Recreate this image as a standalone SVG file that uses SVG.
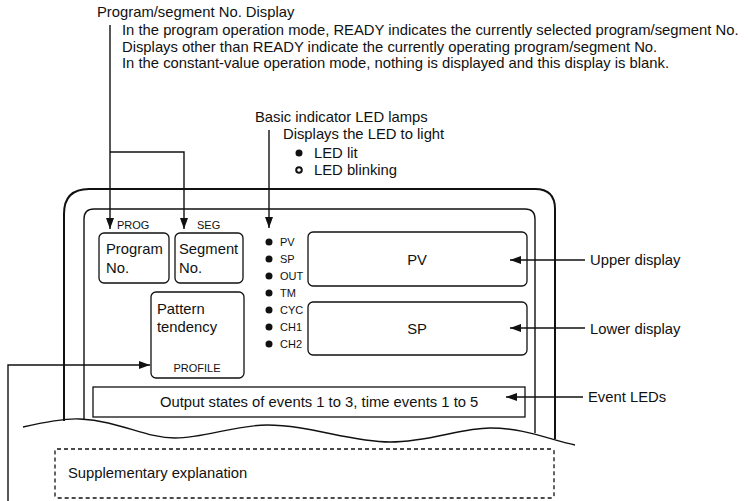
<svg xmlns="http://www.w3.org/2000/svg" width="748" height="501" viewBox="0 0 748 501">
<style>
text{font-family:"Liberation Sans",Arial,sans-serif;fill:#111}
.t{font-size:14.8px}
.s{font-size:11px}
.ln{fill:none;stroke:#111;stroke-width:1.4}
.thick{fill:none;stroke:#111;stroke-width:2}
.box{fill:#fff;stroke:#111;stroke-width:1.3}
.dash{fill:none;stroke:#111;stroke-width:1.3;stroke-dasharray:4 3}
.led{fill:#111}
</style>
<defs>
<marker id="ah" markerUnits="userSpaceOnUse" markerWidth="11" markerHeight="8" refX="11" refY="4" orient="auto">
<path d="M0,0 L11,4 L0,8 z" fill="#111"/>
</marker>
</defs>
<rect width="748" height="501" fill="#fff"/>

<g id="panel">
<path class="thick" d="M64 421 L64 214 Q64 189 89 189 L535 189 Q555 189 555 209 L555 439"/>
<path class="ln" d="M84 419 L84 219 Q84 209 94 209 L525 209 Q535 209 535 219 L535 433"/>
<path class="ln" d="M23 427 C45 422 65 418 80 419 C120 421 145 438 175 438 C205 438 235 425 267 425 C310 425 350 442 390 442 C430 442 460 428 490 428 C525 428 550 440 575 445"/>
</g>

<g id="annotation-prog-seg">
<text class="t" x="97" y="17">Program/segment No. Display</text>
<text class="t" x="122" y="35">In the program operation mode, READY indicates the currently selected program/segment No.</text>
<text class="t" x="122" y="52">Displays other than READY indicate the currently operating program/segment No.</text>
<text class="t" x="122" y="68">In the constant-value operation mode, nothing is displayed and this display is blank.</text>
</g>

<g id="annotation-led">
<text class="t" x="255" y="122">Basic indicator LED lamps</text>
<text class="t" x="283" y="139">Displays the LED to light</text>
<circle class="led" cx="299" cy="153" r="3.5"/>
<text class="t" x="314" y="158">LED lit</text>
<circle cx="299" cy="170" r="2.8" fill="#fff" stroke="#111" stroke-width="2"/>
<text class="t" x="314" y="175">LED blinking</text>
</g>

<g id="program-no">
<text class="s" x="117" y="229">PROG</text>
<rect class="box" x="99" y="233" width="70" height="50" rx="5"/>
<text class="t" x="106" y="254">Program</text>
<text class="t" x="106" y="273">No.</text>
</g>

<g id="segment-no">
<text class="s" x="197" y="229">SEG</text>
<rect class="box" x="175" y="233" width="68" height="50" rx="5"/>
<text class="t" x="179" y="254">Segment</text>
<text class="t" x="179" y="273">No.</text>
</g>

<g id="pattern">
<rect class="box" x="151" y="292" width="93" height="86" rx="5"/>
<text class="t" x="157" y="314">Pattern</text>
<text class="t" x="157" y="332">tendency</text>
<text class="s" x="197" y="372" text-anchor="middle">PROFILE</text>
</g>

<g id="leds">
<circle class="led" cx="269" cy="242" r="3.5"/><text class="s" x="280" y="246">PV</text>
<circle class="led" cx="269" cy="259" r="3.5"/><text class="s" x="280" y="263">SP</text>
<circle class="led" cx="269" cy="276" r="3.5"/><text class="s" x="280" y="280">OUT</text>
<circle class="led" cx="269" cy="293" r="3.5"/><text class="s" x="280" y="297">TM</text>
<circle class="led" cx="269" cy="310" r="3.5"/><text class="s" x="280" y="314">CYC</text>
<circle class="led" cx="269" cy="327" r="3.5"/><text class="s" x="280" y="331">CH1</text>
<circle class="led" cx="269" cy="344" r="3.5"/><text class="s" x="280" y="348">CH2</text>
</g>

<g id="upper-display">
<rect class="box" x="308" y="232" width="219" height="54" rx="5"/>
<text class="t" x="417" y="265" text-anchor="middle">PV</text>
</g>

<g id="lower-display">
<rect class="box" x="308" y="302" width="219" height="53" rx="5"/>
<text class="t" x="417" y="334" text-anchor="middle">SP</text>
</g>

<g id="event-leds">
<rect class="box" x="93" y="387" width="432" height="30"/>
<text class="t" x="160" y="407">Output states of events 1 to 3, time events 1 to 5</text>
</g>

<g id="supplementary">
<rect class="dash" x="55" y="449" width="499" height="49" rx="2"/>
<text class="t" x="68" y="478">Supplementary explanation</text>
</g>

<g id="labels">
<text class="t" x="590" y="265">Upper display</text>
<text class="t" x="590" y="334">Lower display</text>
<text class="t" x="588" y="402">Event LEDs</text>
</g>

<g id="connectors">
<path class="ln" d="M110 25 L110 229" marker-end="url(#ah)"/>
<path class="ln" d="M110 152 L184 152 L184 229" marker-end="url(#ah)"/>
<path class="ln" d="M269 130 L269 228" marker-end="url(#ah)"/>
<path class="ln" d="M585 260 L510 260" marker-end="url(#ah)"/>
<path class="ln" d="M585 328 L510 328" marker-end="url(#ah)"/>
<path class="ln" d="M583 397 L506 397" marker-end="url(#ah)"/>
<path class="ln" d="M8 501 L8 365 L150 365" marker-end="url(#ah)"/>
</g>
</svg>
